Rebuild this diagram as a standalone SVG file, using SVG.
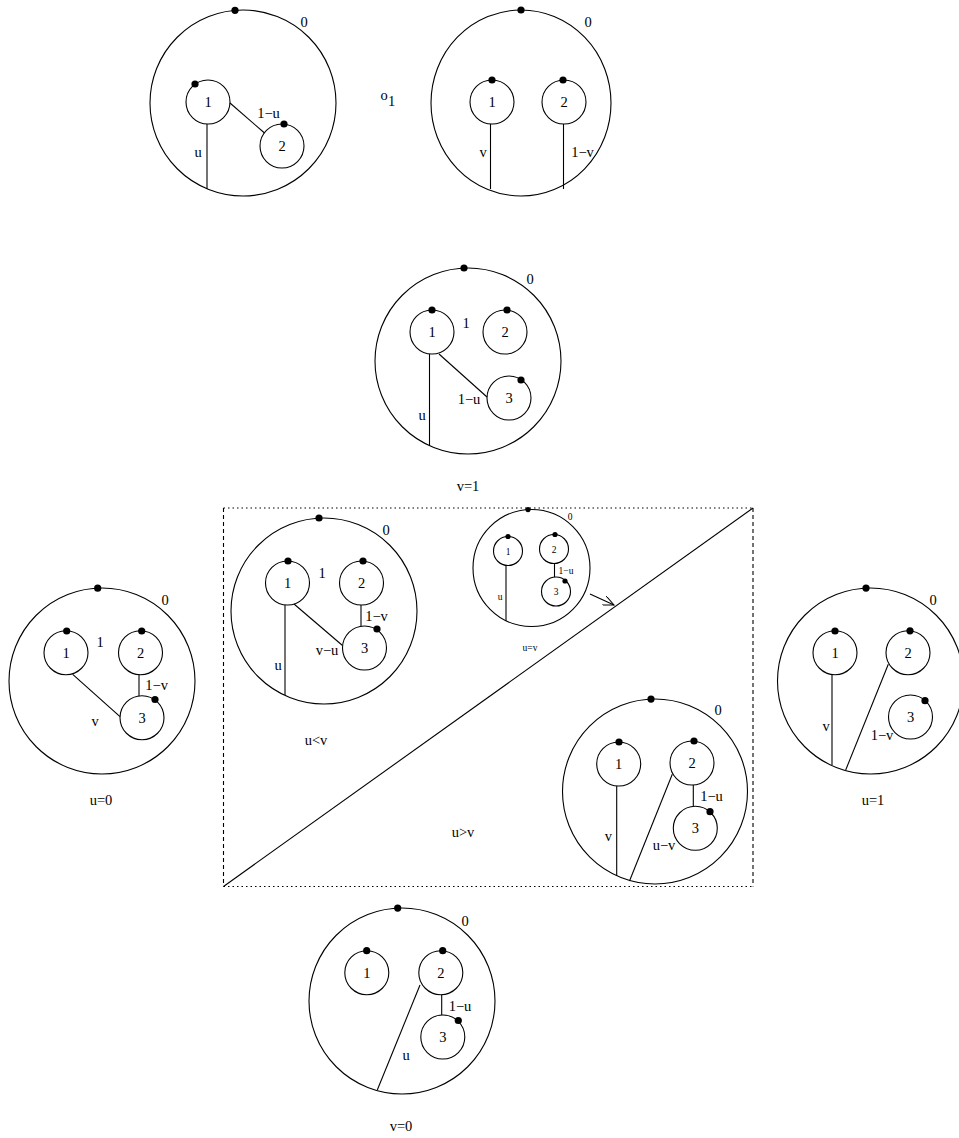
<svg xmlns="http://www.w3.org/2000/svg" width="959" height="1138" viewBox="0 0 959 1138">
<style>
.c{fill:none;stroke:#000;stroke-width:1.1}
.l{stroke:#000;stroke-width:1.1;fill:none}
.d{fill:#000}
text{font-family:"Liberation Serif","Times New Roman",serif;font-size:14.5px;fill:#000;text-anchor:middle;opacity:0.999}
.s{font-size:9.5px}
</style>
<defs>
<marker id="ah" markerWidth="12" markerHeight="10" refX="11" refY="5" orient="auto" markerUnits="userSpaceOnUse">
<path d="M0,0 L11,5 L0,10" fill="none" stroke="#000" stroke-width="1"/>
</marker>
</defs>
<rect width="959" height="1138" fill="#fff"/>

<g id="connectors">
<line class="l" x1="223.5" y1="508" x2="753" y2="508" stroke-dasharray="1.5,3"/>
<line class="l" x1="223.5" y1="886.5" x2="753" y2="886.5" stroke-dasharray="1.5,3"/>
<line class="l" x1="223.5" y1="508" x2="223.5" y2="886.5" stroke-dasharray="4,3"/>
<line class="l" x1="753" y1="508" x2="753" y2="886.5" stroke-dasharray="4,3"/>
<line class="l" x1="223.5" y1="886.5" x2="753" y2="508"/>
<line class="l" x1="590" y1="594" x2="614" y2="605" marker-end="url(#ah)"/>
</g>

<g id="top-left">
<circle class="c" cx="243" cy="103" r="93"/>
<circle class="d" cx="235" cy="10.3" r="3.6"/>
<text x="304" y="27">0</text>
<circle class="c" cx="208" cy="102" r="22"/>
<circle class="d" cx="195" cy="84" r="3.6"/>
<text x="208" y="107">1</text>
<circle class="c" cx="282" cy="146" r="22"/>
<circle class="d" cx="284" cy="124" r="3.6"/>
<text x="282" y="151">2</text>
<line class="l" x1="230" y1="103" x2="264.5" y2="133"/>
<text x="268.5" y="118">1−u</text>
<line class="l" x1="207" y1="124" x2="207" y2="189"/>
<text x="198" y="157">u</text>
</g>

<g id="o1-label">
<text x="384" y="100">o<tspan x="391.5" y="106">1</tspan></text>
</g>

<g id="top-right">
<ellipse class="c" cx="521" cy="103" rx="90" ry="93"/>
<circle class="d" cx="521" cy="10" r="3.6"/>
<text x="588" y="27">0</text>
<circle class="c" cx="492" cy="102" r="22"/>
<circle class="d" cx="492" cy="80" r="3.6"/>
<text x="492" y="107">1</text>
<circle class="c" cx="564" cy="102" r="22"/>
<circle class="d" cx="563" cy="80" r="3.6"/>
<text x="564" y="107">2</text>
<line class="l" x1="490.5" y1="124" x2="490.5" y2="189"/>
<text x="483" y="157">v</text>
<line class="l" x1="563.5" y1="124" x2="563.5" y2="189"/>
<text x="582.5" y="157">1−v</text>
</g>

<g id="v1">
<circle class="c" cx="468" cy="361" r="93"/>
<circle class="d" cx="464" cy="268" r="3.6"/>
<text x="530" y="284">0</text>
<circle class="c" cx="432" cy="332" r="22"/>
<circle class="d" cx="432" cy="310" r="3.6"/>
<text x="432" y="337">1</text>
<text x="466" y="328">1</text>
<circle class="c" cx="505" cy="332" r="22"/>
<circle class="d" cx="507" cy="310" r="3.6"/>
<text x="505" y="337">2</text>
<circle class="c" cx="509" cy="398" r="22"/>
<circle class="d" cx="521" cy="380" r="3.6"/>
<text x="509" y="403">3</text>
<line class="l" x1="439" y1="354" x2="487" y2="397"/>
<text x="469" y="404">1−u</text>
<line class="l" x1="429.5" y1="354" x2="429.5" y2="445"/>
<text x="422" y="420">u</text>
<text x="468" y="491">v=1</text>
</g>

<g id="uv-small">
<circle class="c" cx="531.5" cy="568" r="58.5"/>
<circle class="d" cx="528" cy="509.6" r="2.6"/>
<text class="s" x="570" y="520">0</text>
<circle class="c" cx="508" cy="551" r="14.5"/>
<circle class="d" cx="508" cy="536.5" r="2.6"/>
<text class="s" x="508" y="554.5">1</text>
<circle class="c" cx="554" cy="549" r="14.5"/>
<circle class="d" cx="555" cy="534.5" r="2.6"/>
<text class="s" x="554" y="552.5">2</text>
<circle class="c" cx="556" cy="591.5" r="14.5"/>
<circle class="d" cx="565" cy="581" r="2.6"/>
<text class="s" x="556" y="595">3</text>
<line class="l" x1="554.5" y1="563.5" x2="554.5" y2="577"/>
<text class="s" x="566" y="574">1−u</text>
<line class="l" x1="506" y1="565.5" x2="506" y2="621"/>
<text class="s" x="500" y="600">u</text>
<text class="s" x="530" y="651">u=v</text>
</g>

<g id="u-less-v">
<circle class="c" cx="324" cy="611" r="93"/>
<circle class="d" cx="319" cy="518" r="3.6"/>
<text x="386" y="535">0</text>
<circle class="c" cx="287.5" cy="583" r="22"/>
<circle class="d" cx="288" cy="561" r="3.6"/>
<text x="287.5" y="588">1</text>
<text x="322" y="578">1</text>
<circle class="c" cx="361.5" cy="583" r="22"/>
<circle class="d" cx="363" cy="561" r="3.6"/>
<text x="361.5" y="588">2</text>
<circle class="c" cx="364.5" cy="648" r="22"/>
<circle class="d" cx="377" cy="629" r="3.6"/>
<text x="364.5" y="653">3</text>
<line class="l" x1="361" y1="605" x2="361" y2="626"/>
<text x="376.5" y="621">1−v</text>
<line class="l" x1="294" y1="604" x2="342.5" y2="645.5"/>
<text x="327" y="655">v−u</text>
<line class="l" x1="285" y1="605" x2="285" y2="695"/>
<text x="278" y="670">u</text>
<text x="316" y="745">u&lt;v</text>
</g>

<g id="u0">
<circle class="c" cx="102" cy="681" r="93"/>
<circle class="d" cx="97.7" cy="588.2" r="3.6"/>
<text x="165" y="605">0</text>
<circle class="c" cx="66" cy="652.7" r="22"/>
<circle class="d" cx="66.7" cy="631" r="3.6"/>
<text x="66" y="658">1</text>
<text x="100" y="647">1</text>
<circle class="c" cx="140.5" cy="652.7" r="22"/>
<circle class="d" cx="141.7" cy="631" r="3.6"/>
<text x="140.5" y="658">2</text>
<circle class="c" cx="142" cy="717.7" r="22"/>
<circle class="d" cx="155" cy="699.5" r="3.6"/>
<text x="142" y="723">3</text>
<line class="l" x1="139" y1="674.5" x2="139" y2="696"/>
<text x="156.7" y="690">1−v</text>
<line class="l" x1="72.7" y1="674.3" x2="120" y2="716.7"/>
<text x="95" y="726">v</text>
<text x="101" y="805">u=0</text>
</g>

<g id="u-greater-v">
<circle class="c" cx="655" cy="791.5" r="92.5"/>
<circle class="d" cx="651" cy="699.1" r="3.6"/>
<text x="718" y="715">0</text>
<circle class="c" cx="618.7" cy="764" r="22"/>
<circle class="d" cx="619" cy="742" r="3.6"/>
<text x="618.7" y="769">1</text>
<circle class="c" cx="692" cy="763" r="22"/>
<circle class="d" cx="694" cy="741" r="3.6"/>
<text x="692" y="768">2</text>
<circle class="c" cx="695.3" cy="828.3" r="22"/>
<circle class="d" cx="710" cy="811.7" r="3.6"/>
<text x="695.3" y="833.3">3</text>
<line class="l" x1="693.3" y1="785" x2="693.3" y2="806"/>
<text x="711.5" y="801">1−u</text>
<line class="l" x1="616.7" y1="786" x2="616.7" y2="876"/>
<text x="608.3" y="841">v</text>
<line class="l" x1="672.3" y1="774.3" x2="629.5" y2="881"/>
<text x="664" y="850">u−v</text>
<text x="463" y="837">u&gt;v</text>
</g>

<g id="u1">
<circle class="c" cx="870.5" cy="681" r="93"/>
<circle class="d" cx="866" cy="588.1" r="3.6"/>
<text x="933" y="605">0</text>
<circle class="c" cx="835" cy="652.7" r="22"/>
<circle class="d" cx="835" cy="631" r="3.6"/>
<text x="835" y="658">1</text>
<circle class="c" cx="908" cy="652.7" r="22"/>
<circle class="d" cx="910" cy="630.8" r="3.6"/>
<text x="908" y="658">2</text>
<circle class="c" cx="910.5" cy="717" r="22"/>
<circle class="d" cx="925" cy="700.7" r="3.6"/>
<text x="910.5" y="722">3</text>
<line class="l" x1="832" y1="674.5" x2="832" y2="765"/>
<text x="826" y="731">v</text>
<line class="l" x1="888.3" y1="664.3" x2="845.7" y2="770"/>
<text x="882" y="740">1−v</text>
<text x="873" y="805">u=1</text>
</g>

<g id="v0">
<circle class="c" cx="402" cy="1001" r="93"/>
<circle class="d" cx="397.7" cy="908.1" r="3.6"/>
<text x="465" y="926">0</text>
<circle class="c" cx="366.8" cy="972.7" r="22"/>
<circle class="d" cx="366.7" cy="950.7" r="3.6"/>
<text x="366.8" y="978">1</text>
<circle class="c" cx="440.8" cy="972.7" r="22"/>
<circle class="d" cx="442.7" cy="950.7" r="3.6"/>
<text x="440.8" y="978">2</text>
<circle class="c" cx="442.8" cy="1037" r="22"/>
<circle class="d" cx="458.3" cy="1020.5" r="3.6"/>
<text x="442.8" y="1042">3</text>
<line class="l" x1="441.7" y1="994.7" x2="441.7" y2="1015"/>
<text x="460" y="1011">1−u</text>
<line class="l" x1="420" y1="985" x2="377.3" y2="1090"/>
<text x="406" y="1060">u</text>
<text x="401" y="1131">v=0</text>
</g>
</svg>
